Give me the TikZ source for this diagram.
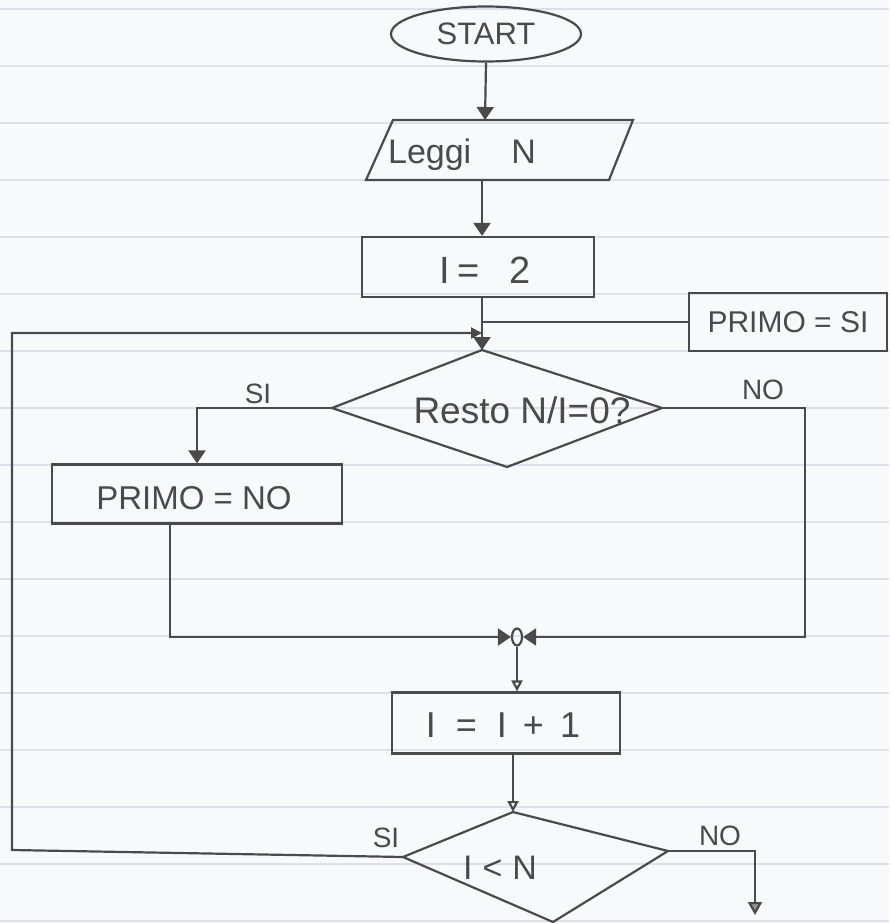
\documentclass[tikz,border=0pt]{standalone}
\usepackage{fontspec}
\setmainfont{Liberation Sans}
\usetikzlibrary{shapes.geometric,arrows.meta,calc}
\definecolor{ink}{HTML}{4A4A4A}
\definecolor{rulec}{HTML}{DCE0E8}
\definecolor{paper}{HTML}{F8F9FB}
\newcommand\fsz[1]{\fontsize{#1}{#1}\selectfont}
\begin{document}
\begin{tikzpicture}[x=1pt,y=-1pt,
  ln/.style={draw=ink,line width=2.2pt},
  box/.style={draw=ink,line width=2.2pt,rectangle,inner sep=0pt,text=ink},
  lbl/.style={text=ink,inner sep=0pt},
  arr/.style={ln,-{Triangle[width=17pt,length=13pt]}},
  arrs/.style={ln,-{Triangle[width=11pt,length=11pt]}},
  arro/.style={ln,-{Triangle[open,width=11pt,length=11pt]}},
  arrg/.style={ln,-{Triangle[width=14pt,length=13pt,fill=ink!60]}}]
\fill[paper] (0,0) rectangle (889,923);
\useasboundingbox (0,0) rectangle (889,923);
\foreach \k in {0,...,16} \draw[rulec,line width=1.2pt] (0,{9+57*\k}) -- (889,{9+57*\k});
% start
\node[ellipse,draw=ink,line width=2.2pt,minimum width=190pt,minimum height=55pt,inner sep=0pt,text=ink,font=\fsz{31}] (start) at (486,34) {START};
% input
\coordinate (p1) at (393,120); \coordinate (p2) at (633,120);
\coordinate (p3) at (609,180); \coordinate (p4) at (366,180);
\draw[ln] (p1) -- (p2) -- (p3) -- (p4) -- cycle;
\node[lbl,font=\fsz{34}] (leggi) at (462,155) {Leggi\hspace{40pt}N};
\coordinate (pt) at (485,120); \coordinate (pb) at (482,180);
% I=2
\node[box,minimum width=232pt,minimum height=60pt] (i2) at (478,267) {};
\node[lbl,font=\fsz{38}] (i2t) at (485,270) {I\hspace{8pt}=\hspace{30pt}2};
% PRIMO = SI
\node[box,minimum width=198pt,minimum height=58pt,font=\fsz{30}] (psi) at (788,322) {PRIMO = SI};
% diamond 1
\coordinate (d1t) at (482,350); \coordinate (d1r) at (662,408);
\coordinate (d1b) at (507,467); \coordinate (d1l) at (332,408);
\draw[ln] (d1t) -- (d1r) -- (d1b) -- (d1l) -- cycle;
\node[lbl,font=\fsz{37}] (resto) at (522,410) {Resto N/I=0?};
\node[lbl,font=\fsz{28}] (s1) at (258,394) {SI};
\node[lbl,font=\fsz{28}] (n1) at (763,390) {NO};
% PRIMO = NO
\node[box,minimum width=290pt,minimum height=59pt] (pno) at (197,494) {};
\node[lbl,font=\fsz{33}] (pnot) at (194,498) {PRIMO = NO};
% junction
\node[ellipse,draw=ink,line width=2.2pt,minimum width=10pt,minimum height=17pt,inner sep=0pt] (jc) at (517,637) {};
% I = I + 1
\node[box,minimum width=228pt,minimum height=61pt] (inc) at (506,723) {};
\node[lbl,font=\fsz{36}] (inct) at (503,725) {I\hspace{20pt}=\hspace{20pt}I\hspace{16pt}+\hspace{16pt}1};
% diamond 2
\coordinate (d2t) at (513,812); \coordinate (d2r) at (668,851);
\coordinate (d2b) at (553,922); \coordinate (d2l) at (403,857);
\draw[ln] (d2t) -- (d2r) -- (d2b) -- (d2l) -- cycle;
\node[lbl,font=\fsz{34}] (iln) at (500,868) {I\hspace{10pt}<\hspace{10pt}N};
\node[lbl,font=\fsz{28}] (s2) at (386,838) {SI};
\node[lbl,font=\fsz{28}] (n2) at (720,836) {NO};
% connectors
\draw[arr] (start.south) -- (pt);
\draw[arr] (pb) -- (pb |- i2.north);
\coordinate (j2) at (482,322); \coordinate (j1) at (482,333);
\draw[arr] (i2.south -| d1t) -- (d1t);
\draw[ln] (psi.west) -- (j2);
\coordinate (lc) at (12,850);
\draw[arrs] (d2l) -- (lc) |- (j1);
\draw[arr] (d1l) -| (pno.north);
\coordinate (lb) at (170,637);
\draw[arr] (pno.south -| lb) -- (lb) -- (jc.west);
\coordinate (rc) at (805,637);
\draw[arr] (d1r) -| (rc) -- (jc.east);
\draw[arro] (jc.south) -- (jc.south |- inc.north);
\draw[arro] (inc.south -| d2t) -- (d2t);
\coordinate (endno) at (755,915);
\draw[arrg] (d2r) -| (endno);
\end{tikzpicture}
\end{document}
